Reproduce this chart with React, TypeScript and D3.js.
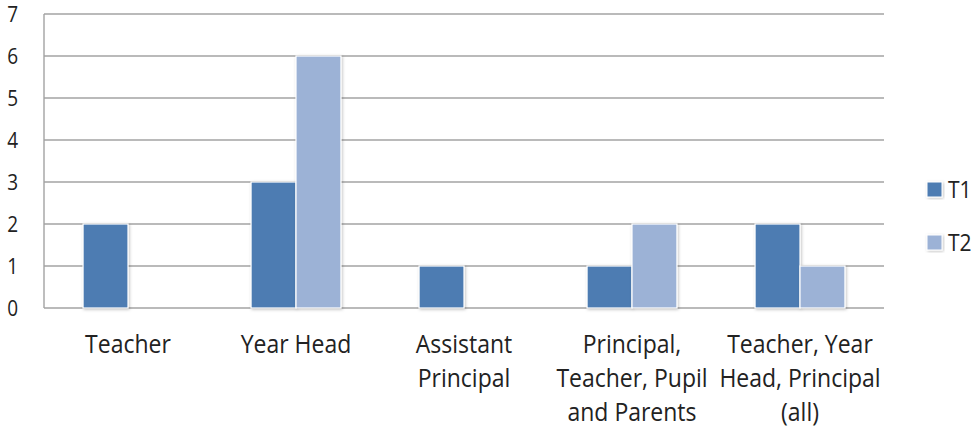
import * as d3 from "d3";

const categories = [
  ["Teacher"],
  ["Year Head"],
  ["Assistant", "Principal"],
  ["Principal,", "Teacher, Pupil", "and Parents"],
  ["Teacher, Year", "Head, Principal", "(all)"],
];
const seriesNames = ["T1", "T2"];
const t1 = [2, 3, 1, 1, 2];
const t2 = [0, 6, 0, 2, 1];
const yTicks = [0, 1, 2, 3, 4, 5, 6, 7];

const colors = ["#4d7cb2", "#9cb2d6"];
const FONT = "'Open Sans', 'Noto Sans', sans-serif";

export default function App() {
  const width = 976;
  const height = 428;
  const left = 44;
  const right = 884;
  const top = 14;
  const bottom = 308;

  const keys = categories.map((c) => c.join(" "));
  const x0 = d3
    .scaleBand<string>()
    .domain(keys)
    .range([left, right])
    .paddingInner(0.465)
    .paddingOuter(0.2325);
  const x1 = d3.scaleBand<string>().domain(seriesNames).range([0, x0.bandwidth()]);
  const y = d3.scaleLinear().domain([0, 7]).range([bottom, top]);

  const values = [t1, t2];

  return (
    <div style={{ position: "absolute", left: 0, top: 0 }}>
      <svg width={width} height={height} style={{ display: "block", background: "#fff" }}>
        <defs>
          <filter id="shadow" x="-20%" y="-20%" width="140%" height="140%">
            <feDropShadow dx="1" dy="1" stdDeviation="1.5" floodColor="#000" floodOpacity="0.25" />
          </filter>
        </defs>

        {/* grid */}
        {yTicks.map((t) => (
          <line
            key={t}
            x1={left}
            x2={right}
            y1={y(t)}
            y2={y(t)}
            stroke="#a3a3a3"
            strokeWidth={1.4}
          />
        ))}
        <line x1={left} x2={left} y1={top} y2={bottom} stroke="#a3a3a3" strokeWidth={1.4} />

        {/* y tick labels */}
        {yTicks.map((t) => (
          <text
            key={t}
            transform={`translate(18,${y(t)}) scale(1,1.18)`}
            textAnchor="end"
            dy="0.36em"
            fontFamily={FONT}
            fontSize={19}
            fill="#222"
          >
            {t}
          </text>
        ))}

        {/* bars */}
        {keys.map((k, i) => (
          <g key={k} transform={`translate(${x0(k)},0)`}>
            {seriesNames.map((s, j) =>
              values[j][i] > 0 ? (
                <rect
                  key={s}
                  x={x1(s)}
                  y={y(values[j][i])}
                  width={x1.bandwidth()}
                  height={bottom - y(values[j][i])}
                  fill={colors[j]}
                  stroke="#fff"
                  strokeWidth={1.2}
                  filter="url(#shadow)"
                />
              ) : null
            )}
          </g>
        ))}

        {/* category labels */}
        {categories.map((lines, i) => {
          const cx = (x0(keys[i]) as number) + x0.bandwidth() / 2;
          return lines.map((ln, li) => (
            <text
              key={`${i}-${li}`}
              transform={`translate(${cx},${353 + li * 34}) scale(1,1.08)`}
              textAnchor="middle"
              fontFamily={FONT}
              fontSize={23}
              fill="#222"
            >
              {ln}
            </text>
          ));
        })}

        {/* legend */}
        {seriesNames.map((s, j) => (
          <g key={s} transform={`translate(927,${182 + j * 53})`}>
            <rect width={15} height={15} fill={colors[j]} stroke="#fff" strokeWidth={1} filter="url(#shadow)" />
            <text
              transform={`translate(21,16) scale(1,1.1)`}
              fontFamily={FONT}
              fontSize={21}
              fill="#222"
            >
              {s}
            </text>
          </g>
        ))}
      </svg>
    </div>
  );
}
